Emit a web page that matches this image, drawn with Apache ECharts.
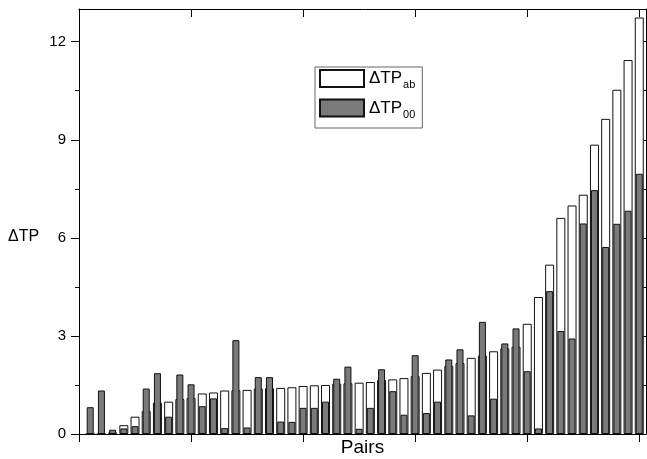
<!DOCTYPE html>
<html>
<head>
<meta charset="utf-8">
<script src="https://cdn.jsdelivr.net/npm/echarts@6/dist/echarts.min.js"></script>
<style>
  html, body { margin: 0; padding: 0; background: #fff; }
  #chart { width: 647px; height: 459px; }
</style>
</head>
<body>
<div id="chart"></div>
<script>
// pairs, sorted by dTP_ab
const pairs = [1, 2, 3, 4, 5, 6, 7, 8, 9, 10, 11, 12, 13, 14, 15, 16, 17, 18, 19, 20,
  21, 22, 23, 24, 25, 26, 27, 28, 29, 30, 31, 32, 33, 34, 35, 36, 37, 38, 39, 40,
  41, 42, 43, 44, 45, 46, 47, 48, 49, 50];
const dtpAb = [0, 0, 0.05, 0.27, 0.53, 0.70, 0.96, 0.99, 1.07, 1.10,
  1.24, 1.27, 1.33, 1.34, 1.35, 1.39, 1.40, 1.41, 1.43, 1.47,
  1.49, 1.50, 1.54, 1.55, 1.57, 1.59, 1.65, 1.67, 1.71, 1.77,
  1.87, 1.97, 2.08, 2.17, 2.33, 2.40, 2.53, 2.62, 2.67, 3.37,
  4.19, 5.18, 6.61, 6.99, 7.32, 8.85, 9.64, 10.53, 11.44, 12.74];
const dtp00 = [0.82, 1.33, 0.13, 0.17, 0.24, 1.39, 1.86, 0.53, 1.82, 1.52,
  0.85, 1.09, 0.18, 2.87, 0.20, 1.74, 1.74, 0.38, 0.37, 0.80,
  0.80, 0.99, 1.69, 2.06, 0.16, 0.80, 1.98, 1.31, 0.59, 2.41,
  0.64, 0.99, 2.28, 2.59, 0.57, 3.43, 1.08, 2.77, 3.23, 1.92,
  0.17, 4.37, 3.15, 2.92, 6.44, 7.46, 5.72, 6.43, 6.83, 7.96];
const xTicks = [0, 10, 20, 30, 40, 50];
const yTicks = [0, 3, 6, 9, 12];
const yMinorTicks = [1.5, 4.5, 7.5, 10.5];

const font = "'Liberation Sans', Arial, sans-serif";
const black = "#000";

const chart = echarts.init(document.getElementById("chart"));

const xBase = {
  type: "value",
  min: 0,
  max: 50.6,
  axisLine: { show: true, onZero: false, lineStyle: { color: black, width: 1 } },
  axisLabel: { show: false },
  splitLine: { show: false }
};
const yBase = {
  type: "value",
  min: 0,
  max: 13,
  axisLine: { show: true, onZero: false, lineStyle: { color: black, width: 1 } },
  splitLine: { show: false }
};

chart.setOption({
  animation: false,
  backgroundColor: "#fff",
  grid: { left: 79, right: 1, top: 9, bottom: 25, containLabel: false, outerBoundsMode: "none" },
  legend: {
    orient: "vertical",
    left: 315,
    top: 67,
    padding: [2, 7, 8, 4],
    itemGap: 8,
    itemWidth: 44,
    itemHeight: 17,
    icon: "rect",
    borderColor: "#666",
    borderWidth: 1,
    formatter: function (name) {
      const parts = name.split("_");
      return "{m|" + parts[0] + "}{s|" + parts[1] + "}";
    },
    textStyle: {
      rich: {
        m: { fontSize: 17, lineHeight: 24, fontFamily: font, color: black },
        s: { fontSize: 11, lineHeight: 6, verticalAlign: "bottom",
             padding: [0, 0, 0, 1], fontFamily: font, color: black }
      }
    }
  },
  graphic: [{
    type: "text",
    x: 8,
    y: 237,
    style: { text: "ΔTP", font: "16px " + font, fill: black, verticalAlign: "middle" }
  }],
  xAxis: [
    Object.assign({}, xBase, {
      position: "bottom",
      axisTick: { show: true, length: 8, customValues: xTicks,
                  lineStyle: { color: black } },
      name: "Pairs",
      nameLocation: "middle",
      nameGap: 4,
      nameTextStyle: { fontSize: 19, fontFamily: font, color: black,
                       verticalAlign: "top" }
    }),
    Object.assign({}, xBase, {
      position: "top",
      axisTick: { show: true, inside: true, length: 8, customValues: xTicks,
                  lineStyle: { color: black } }
    })
  ],
  yAxis: [
    Object.assign({}, yBase, {
      position: "left",
      axisTick: { show: true, length: 8, customValues: yTicks,
                  lineStyle: { color: black } },
      axisLabel: { show: true, customValues: yTicks, margin: 13,
                   fontSize: 15, fontFamily: font, color: black }
    }),
    Object.assign({}, yBase, {
      position: "right",
      axisTick: { show: true, inside: true, length: 5,
                  customValues: yTicks.concat(yMinorTicks),
                  lineStyle: { color: black } },
      axisLabel: { show: false }
    }),
    Object.assign({}, yBase, {
      position: "left",
      axisLine: { show: false },
      axisTick: { show: true, length: 4, customValues: yMinorTicks,
                  lineStyle: { color: black } },
      axisLabel: { show: false }
    })
  ],
  series: [
    {
      name: "ΔTP_ab",
      type: "bar",
      xAxisIndex: 0,
      yAxisIndex: 0,
      barWidth: 9,
      z: 2,
      itemStyle: { color: "#fff", borderColor: "#111", borderWidth: 1 },
      data: pairs.map((p, i) => [p, dtpAb[i]])
    },
    {
      name: "ΔTP_00",
      type: "bar",
      xAxisIndex: 1,
      yAxisIndex: 0,
      barWidth: 7,
      z: 3,
      itemStyle: { color: "#7a7a7a", borderColor: "#111", borderWidth: 1 },
      data: pairs.map((p, i) => [p, dtp00[i]])
    }
  ]
});
</script>
</body>
</html>
